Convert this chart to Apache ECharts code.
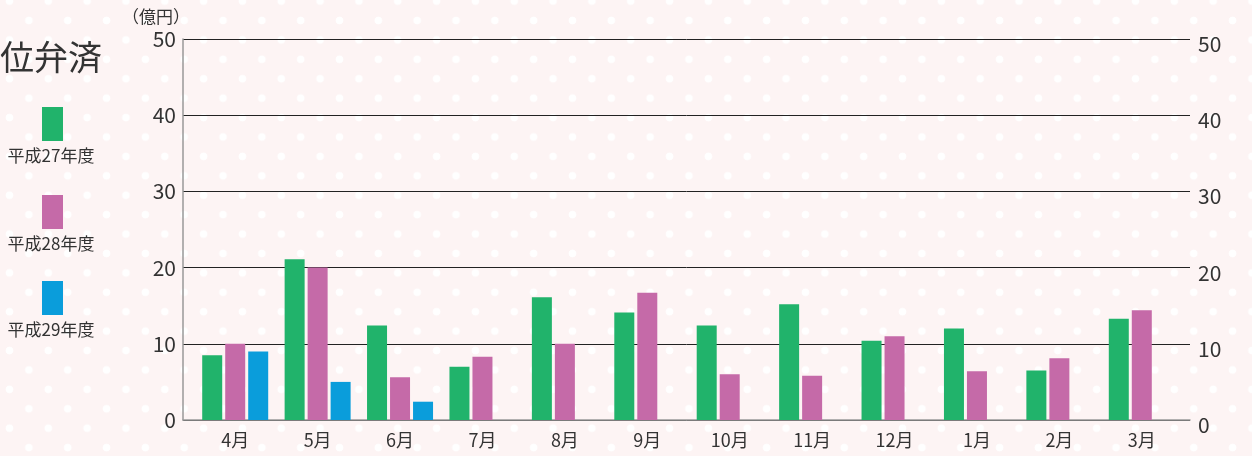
<!DOCTYPE html>
<html>
<head>
<meta charset="utf-8">
<script src="https://cdn.jsdelivr.net/npm/echarts@6/dist/echarts.min.js"></script>
<style>
  html, body {
    margin: 0;
    padding: 0;
  }
  body {
    background-color: #fdf4f4;
    background-image:
      radial-gradient(circle, #ffffff 3.5px, rgba(255,255,255,0) 4.2px),
      radial-gradient(circle, #ffffff 3.5px, rgba(255,255,255,0) 4.2px);
    background-size: 38.84px 38.84px, 38.84px 38.84px;
    background-position: 9.48px 1.08px, 28.9px 20.5px;
  }
  #chart {
    width: 1252px;
    height: 456px;
  }
</style>
</head>
<body>
<div id="chart"></div>
<script>
const months = ['4月', '5月', '6月', '7月', '8月', '9月', '10月', '11月', '12月', '1月', '2月', '3月'];
const seriesNames = ['平成27年度', '平成28年度', '平成29年度'];
const h27 = [8.5, 21.1, 12.4, 7.0, 16.1, 14.1, 12.4, 15.2, 10.4, 12.0, 6.5, 13.3];
const h28 = [10.0, 20.0, 5.6, 8.3, 10.0, 16.7, 6.0, 5.8, 11.0, 6.4, 8.1, 14.4];
const h29 = [9.0, 5.0, 2.4, null, null, null, null, null, null, null, null, null];
const yTicks = [0, 10, 20, 30, 40, 50];

const colors = ['#21b36b', '#c56aa8', '#0a9ddb'];
const fontFamily = '"Noto Sans CJK JP", "Noto Sans", sans-serif';
const textColor = '#333333';

const chart = echarts.init(document.getElementById('chart'));

// legend drawn by hand: box above, label below
const legendTops = [107, 195, 281];
const legendGraphics = [];
seriesNames.forEach((name, i) => {
  legendGraphics.push({
    type: 'rect',
    shape: { x: 42, y: legendTops[i], width: 21, height: 34 },
    style: { fill: colors[i] }
  });
  legendGraphics.push({
    type: 'text',
    x: 51,
    y: legendTops[i] + 49,
    style: {
      text: name,
      font: '17px ' + fontFamily,
      fill: textColor,
      align: 'center',
      verticalAlign: 'middle'
    }
  });
});

const option = {
  animation: false,
  textStyle: { fontFamily: fontFamily },
  graphic: [
    {
      type: 'text',
      x: 0,
      y: 57,
      style: {
        text: '位弁済',
        font: '34px ' + fontFamily,
        fill: textColor,
        verticalAlign: 'middle'
      }
    },
    {
      type: 'text',
      x: 156,
      y: 17,
      style: {
        text: '（億円）',
        font: '17px ' + fontFamily,
        fill: textColor,
        align: 'center',
        verticalAlign: 'middle'
      }
    },
    ...legendGraphics
  ],
  grid: [
    // frame + gridlines
    { left: 183, right: 62, top: 39, bottom: 36 },
    // bars
    { left: 194, right: 69, top: 39, bottom: 36 }
  ],
  xAxis: [
    {
      gridIndex: 0,
      type: 'category',
      data: months,
      axisLine: { show: true, lineStyle: { color: '#999999', width: 1.5 } },
      axisTick: { show: false },
      axisLabel: { show: false }
    },
    {
      gridIndex: 1,
      type: 'category',
      data: months,
      axisLine: { show: false },
      axisTick: { show: false },
      axisLabel: {
        color: textColor,
        fontSize: 18,
        margin: 11
      }
    }
  ],
  yAxis: [
    {
      gridIndex: 0,
      type: 'value',
      min: yTicks[0],
      max: yTicks[yTicks.length - 1],
      interval: 10,
      position: 'left',
      axisLine: { show: true, lineStyle: { color: '#999999', width: 1.5 } },
      axisTick: { show: false },
      splitLine: { lineStyle: { color: '#222222', width: 1 } },
      axisLabel: { color: textColor, fontSize: 21, margin: 7 }
    },
    {
      gridIndex: 0,
      type: 'value',
      min: yTicks[0],
      max: yTicks[yTicks.length - 1],
      interval: 10,
      position: 'right',
      axisLine: { show: false },
      axisTick: { show: false },
      splitLine: { show: false },
      axisLabel: {
        margin: 8,
        formatter: '{v|{value}}',
        rich: {
          v: { color: textColor, fontSize: 21, padding: [10, 0, 0, 0] }
        }
      }
    },
    {
      gridIndex: 1,
      type: 'value',
      min: yTicks[0],
      max: yTicks[yTicks.length - 1],
      show: false
    }
  ],
  series: [h27, h28, h29].map((data, i) => ({
    name: seriesNames[i],
    type: 'bar',
    xAxisIndex: 1,
    yAxisIndex: 2,
    data: data,
    barWidth: 20,
    barGap: '15%',
    itemStyle: { color: colors[i] }
  }))
};

chart.setOption(option);
</script>
</body>
</html>
